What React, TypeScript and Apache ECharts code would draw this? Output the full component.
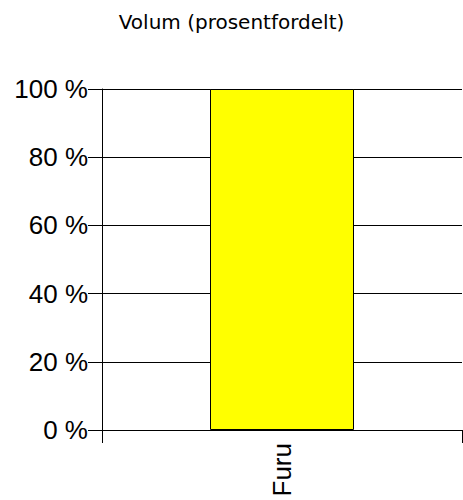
import React, { useEffect, useRef } from "react";
import * as echarts from "echarts";

const categories = ["Furu"];
const values = [100];
const yTicks = { min: 0, max: 100, interval: 20 };

export default function App() {
  const ref = useRef<HTMLDivElement>(null);
  useEffect(() => {
    if (!ref.current) return;
    const chart = echarts.init(ref.current, undefined, { renderer: "svg" });
    chart.setOption({
      animation: false,
      title: {
        text: "Volum (prosentfordelt)",
        left: "center",
        top: 7,
        textStyle: { fontFamily: "DejaVu Sans", fontSize: 20, fontWeight: "normal", color: "#000" },
      },
      grid: { left: 102, right: 1, top: 89, bottom: 70, containLabel: false },
      xAxis: {
        type: "category",
        data: categories,
        boundaryGap: true,
        axisLine: { lineStyle: { color: "#000", width: 1 } },
        axisTick: { show: true, length: 13, alignWithLabel: false, lineStyle: { color: "#000" } },
        axisLabel: { rotate: 90, margin: 13, fontFamily: "Liberation Sans", fontSize: 26, color: "#000" },
        splitLine: { show: false },
      },
      yAxis: {
        type: "value",
        min: yTicks.min,
        max: yTicks.max,
        interval: yTicks.interval,
        axisLine: { show: true, lineStyle: { color: "#000", width: 1 } },
        axisTick: { show: true, length: 14, lineStyle: { color: "#000" } },
        axisLabel: { formatter: "{value} %", margin: 14, fontFamily: "Liberation Sans", fontSize: 26, color: "#000" },
        splitLine: { show: true, lineStyle: { color: "#000", width: 1 } },
      },
      series: [
        {
          type: "bar",
          data: values,
          barWidth: "40%",
          itemStyle: { color: "#ffff00", borderColor: "#000", borderWidth: 1 },
        },
      ],
    });
    return () => chart.dispose();
  }, []);
  return <div ref={ref} style={{ width: 463, height: 500, position: "absolute", left: 0, top: 0 }} />;
}
